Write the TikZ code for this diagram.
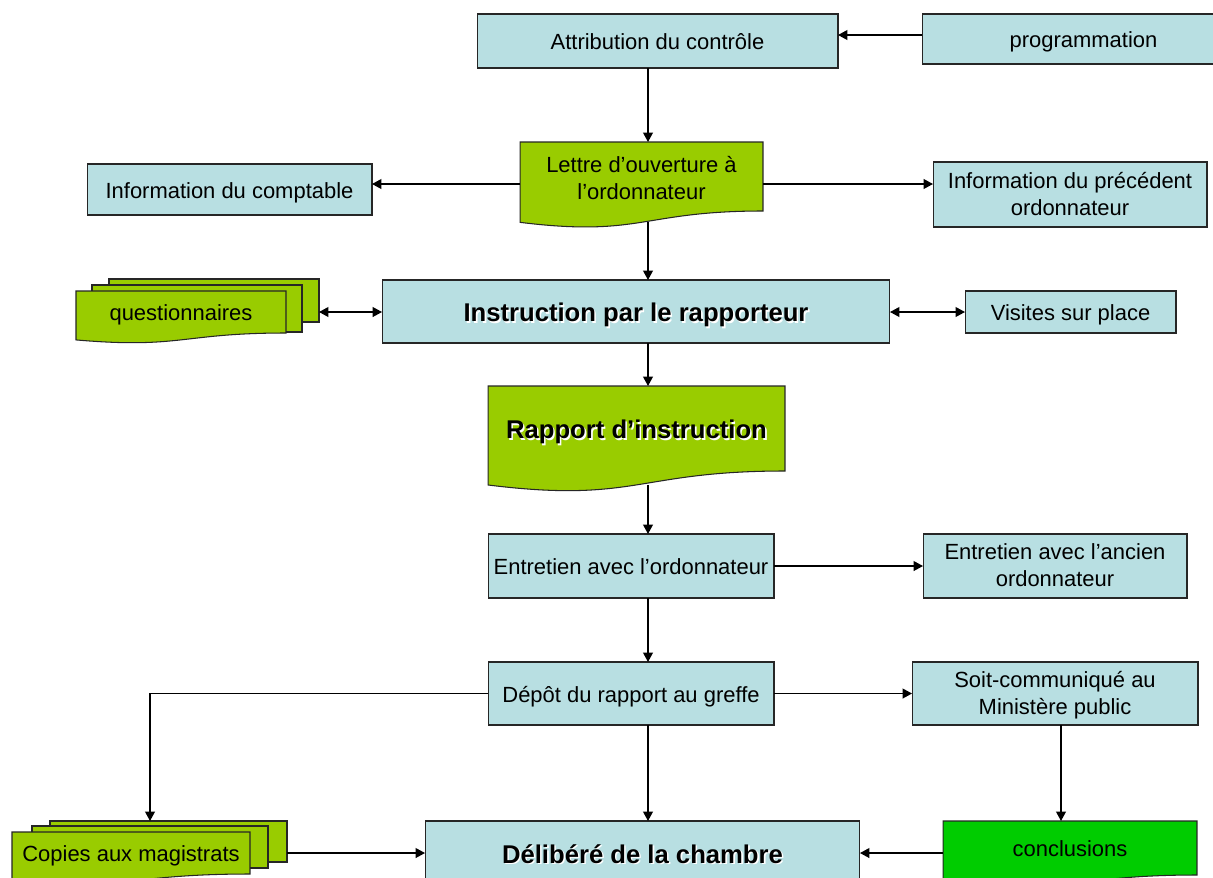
\documentclass[tikz,border=0pt]{standalone}
\usepackage{fontspec}
\setmainfont{Liberation Sans}
\usetikzlibrary{arrows.meta}
\definecolor{boxblue}{RGB}{184,223,226}
\definecolor{docgreen}{RGB}{153,204,0}
\definecolor{conclgreen}{RGB}{0,204,0}
\tikzstyle{arrow} = [line width=0.9pt,->,>={Triangle[length=5.4pt,width=5.6pt]}]
\tikzstyle{darrow} = [line width=0.9pt,<->,>={Triangle[length=5.4pt,width=5.6pt]}]

% flowchart "document" shape: a rectangle with a wavy bottom
\makeatletter
\pgfdeclareshape{flowdoc}{
  \inheritsavedanchors[from=rectangle]
  \inheritanchorborder[from=rectangle]
  \inheritanchor[from=rectangle]{center}
  \inheritanchor[from=rectangle]{north}
  \inheritanchor[from=rectangle]{south}
  \inheritanchor[from=rectangle]{east}
  \inheritanchor[from=rectangle]{west}
  \inheritanchor[from=rectangle]{north east}
  \inheritanchor[from=rectangle]{north west}
  \inheritanchor[from=rectangle]{south east}
  \inheritanchor[from=rectangle]{south west}
  \inheritanchor[from=rectangle]{text}
  \inheritanchor[from=rectangle]{base}
  \inheritanchor[from=rectangle]{mid}
  \anchor{wave}{%
    \southwest \pgf@xa=\pgf@x \pgf@ya=\pgf@y
    \northeast \pgf@yb=\pgf@y
    \pgf@x=.5\pgf@x \advance\pgf@x by .5\pgf@xa
    \pgf@yb=-\pgf@yb \advance\pgf@yb by \pgf@ya
    \pgf@y=\pgf@ya \advance\pgf@y by 0.1625\pgf@yb}
  \backgroundpath{%
    \southwest \pgf@xa=\pgf@x \pgf@ya=\pgf@y
    \northeast \pgf@xb=\pgf@x \pgf@yb=\pgf@y
    \pgf@xc=.5\pgf@xa \advance\pgf@xc by .5\pgf@xb
    \pgf@yc=\pgf@ya \advance\pgf@yc by -\pgf@yb
    \pgf@x=\pgf@ya \advance\pgf@x by 0.3815\pgf@yc \edef\doc@cy{\the\pgf@x}%
    \pgf@x=\pgf@ya \advance\pgf@x by 0.1646\pgf@yc \edef\doc@ey{\the\pgf@x}%
    \edef\doc@xa{\the\pgf@xa}\edef\doc@xb{\the\pgf@xb}\edef\doc@xc{\the\pgf@xc}%
    \edef\doc@ya{\the\pgf@ya}\edef\doc@yb{\the\pgf@yb}%
    \pgfpathmoveto{\pgfqpoint{\doc@xa}{\doc@yb}}%
    \pgfpathlineto{\pgfqpoint{\doc@xb}{\doc@yb}}%
    \pgfpathlineto{\pgfqpoint{\doc@xb}{\doc@ya}}%
    \pgfpathcurveto{\pgfqpoint{\doc@xc}{\doc@ya}}{\pgfqpoint{\doc@xc}{\doc@cy}}{\pgfqpoint{\doc@xa}{\doc@ey}}%
    \pgfpathclose}
}
\makeatother

\newcommand{\shadowed}[1]{\rlap{\kern0.9pt\raisebox{-0.9pt}{\color{white}#1}}#1}
\newcommand{\linestrut}{\rule[-0.25em]{0pt}{1.3em}}
\newcommand{\lowline}[2][1.4pt]{\raisebox{-#1}[\height][\depth]{#2}}

\begin{document}
\begin{tikzpicture}
        [
            x=0.02cm, y=-0.02cm,
            box/.style={rectangle,draw=black!85,line width=0.6pt,fill=boxblue,inner sep=1pt,outer sep=0pt,align=center,
                        font=\fontsize{12.5}{15.3}\selectfont,execute at begin node=\linestrut,execute at end node=\linestrut},
            twoline/.style={execute at begin node={},execute at end node={}},
            doc/.style={box,shape=flowdoc,fill=docgreen},
            sheet/.style={box,fill=docgreen},
            bigtext/.style={font=\fontsize{14.6}{17}\selectfont\bfseries},
        ]
    \path[use as bounding box,fill=white] (0,0) rectangle (1213,877);

    % guide lines for the connectors
    \coordinate (spine) at (648,0);
    \coordinate (rightcol) at (1061,0);
    \coordinate (leftcol) at (150,0);
    \coordinate (rowA) at (0,35);
    \coordinate (rowB) at (0,184);
    \coordinate (rowC) at (0,312);
    \coordinate (rowD) at (0,853);

    % top
    \node[box,minimum width=7.22cm,minimum height=1.08cm] (attrib) at (657.5,41) {Attribution du contrôle};
    \node[box,minimum width=6.46cm,minimum height=1cm] (prog) at (1083.5,39) {programmation};
    \node[doc,twoline,minimum width=4.86cm,minimum height=1.38cm] (lettre) at (641.5,176.5) {\lowline[2.2pt]{Lettre d’ouverture à}\\\lowline[2.2pt]{l’ordonnateur}};
    \node[box,minimum width=5.7cm,minimum height=1.02cm] (infcompt) at (229.5,189.5) {Information du comptable};
    \node[box,twoline,minimum width=5.48cm,minimum height=1.3cm] (infprec) at (1070,194.5) {\lowline{Information du précédent}\\\lowline{ordonnateur}};

    % instruction
    \node[sheet,minimum width=4.2cm,minimum height=0.86cm] (quest3) at (214,300.5) {};
    \node[sheet,minimum width=4.2cm,minimum height=0.94cm] (quest2) at (197,308.5) {};
    \node[doc,minimum width=4.2cm,minimum height=0.84cm] (quest1) at (181,312) {questionnaires};
    \node[box,bigtext,minimum width=10.16cm,minimum height=1.26cm] (instr) at (636,311.5) {\shadowed{Instruction par le rapporteur}};
    \node[box,minimum width=4.22cm,minimum height=0.84cm] (visites) at (1070.5,312) {Visites sur place};
    \node[doc,bigtext,minimum width=5.94cm,minimum height=1.7cm] (rapport) at (636.5,428.5) {\shadowed{Rapport d’instruction}};

    % entretiens et depot
    \node[box,minimum width=5.72cm,minimum height=1.28cm] (entr) at (631,566) {Entretien avec l’ordonnateur};
    \node[box,twoline,minimum width=5.28cm,minimum height=1.28cm] (entranc) at (1055,566) {\lowline[1pt]{Entretien avec l’ancien}\\\lowline[1pt]{ordonnateur}};
    \node[box,minimum width=5.72cm,minimum height=1.26cm] (depot) at (631,693.5) {Dépôt du rapport au greffe};
    \node[box,twoline,minimum width=5.72cm,minimum height=1.26cm] (soit) at (1055,693.5) {\lowline{Soit-communiqué au}\\\lowline{Ministère public}};

    % bottom
    \node[sheet,minimum width=4.74cm,minimum height=0.82cm] (copies3) at (168.5,841.5) {};
    \node[sheet,minimum width=4.72cm,minimum height=0.84cm] (copies2) at (150,847) {};
    \node[doc,minimum width=4.76cm,minimum height=0.84cm] (copies1) at (131,853) {Copies aux magistrats};
    \node[box,bigtext,minimum width=8.7cm,minimum height=1.28cm] (delib) at (642.5,853) {\shadowed{Délibéré de la chambre}};
    \node[doc,fill=conclgreen,minimum width=5.08cm,minimum height=1.08cm] (concl) at (1070,848) {conclusions};

    % connectors
    \draw[arrow] (prog.west |- rowA) -- (attrib.east |- rowA);
    \draw[arrow] (attrib.south -| spine) -- (lettre.north -| spine);
    \draw[arrow] (lettre.west |- rowB) -- (infcompt.east |- rowB);
    \draw[arrow] (lettre.east |- rowB) -- (infprec.west |- rowB);
    \draw[arrow] (lettre.wave -| spine) -- (instr.north -| spine);
    \draw[darrow] (quest3.east |- rowC) -- (instr.west |- rowC);
    \draw[darrow] (instr.east |- rowC) -- (visites.west |- rowC);
    \draw[arrow] (instr.south -| spine) -- (rapport.north -| spine);
    \draw[arrow] (rapport.wave -| spine) -- (entr.north -| spine);
    \draw[arrow] (entr.east) -- (entranc.west);
    \draw[arrow] (entr.south -| spine) -- (depot.north -| spine);
    \draw[arrow] (depot.east) -- (soit.west);
    \draw[arrow] (depot.west) -| (copies3.north -| leftcol);
    \draw[arrow] (depot.south -| spine) -- (delib.north -| spine);
    \draw[arrow] (soit.south -| rightcol) -- (concl.north -| rightcol);
    \draw[arrow] (copies3.east |- rowD) -- (delib.west |- rowD);
    \draw[arrow] (concl.west |- rowD) -- (delib.east |- rowD);
\end{tikzpicture}
\end{document}
